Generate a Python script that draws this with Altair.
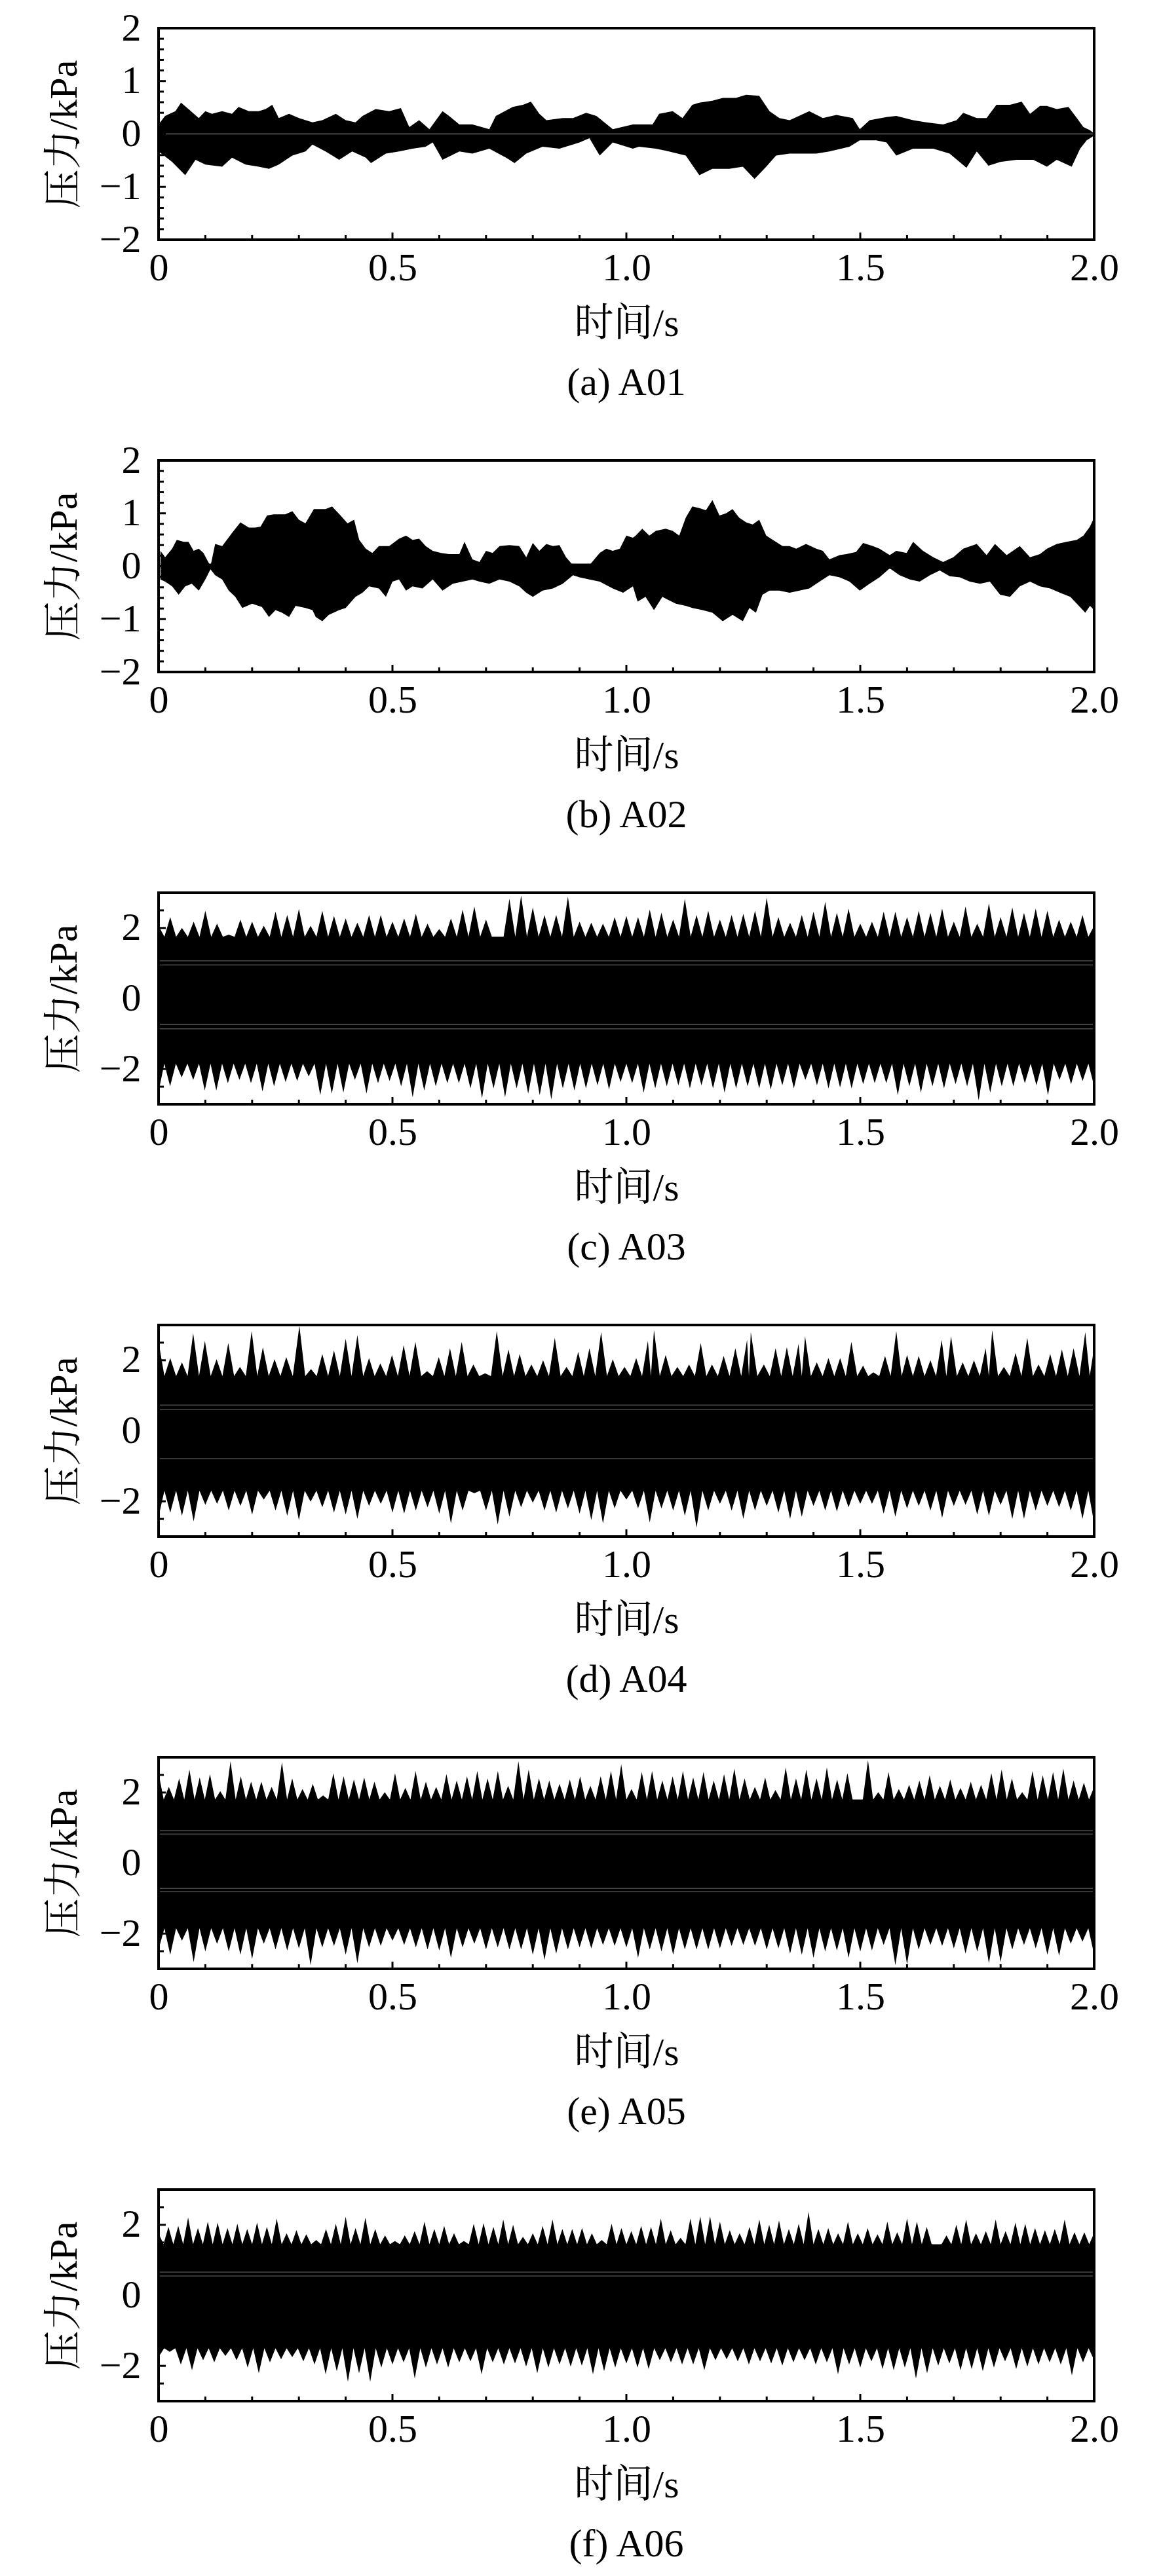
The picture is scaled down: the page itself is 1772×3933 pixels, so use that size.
import altair as alt
import pandas as pd

FONT = "Liberation Serif, Noto Serif CJK SC, Noto Sans CJK SC"
FS = 60
W, H = 1428, 323

# ---------------- axis ticks / labels ----------------
X_LABELS = [0.0, 0.5, 1.0, 1.5, 2.0]
X_TICKS_MAJOR = [0.0, 0.5, 1.0, 1.5, 2.0]
X_TICKS_MINOR = [0.1, 0.2, 0.3, 0.4, 0.6, 0.7, 0.8, 0.9, 1.1, 1.2, 1.3, 1.4, 1.6, 1.7, 1.8, 1.9]
Y2_LABELS = [-2, -1, 0, 1, 2]
Y2_MINOR = [-1.8, -1.6, -1.4, -1.2, -0.8, -0.6, -0.4, -0.2, 0.2, 0.4, 0.6, 0.8, 1.2, 1.4, 1.6, 1.8]
Y3_LABELS = [-2, 0, 2]
Y3_MINOR = [-2.5, -1.5, -1.0, -0.5, 0.5, 1.0, 1.5, 2.5]

# ---------------- (a) A01 envelope ----------------
A_UP_T = [0.0, 0.014, 0.036, 0.048, 0.064, 0.086, 0.10, 0.114, 0.136, 0.157,
          0.171, 0.193, 0.214, 0.229, 0.243, 0.257, 0.279, 0.30, 0.329, 0.35,
          0.379, 0.40, 0.421, 0.436, 0.464, 0.493, 0.518, 0.536, 0.557, 0.579,
          0.607, 0.621, 0.643, 0.671, 0.707, 0.721, 0.757, 0.779, 0.796, 0.814,
          0.829, 0.864, 0.886, 0.914, 0.936, 0.971, 1.014,
          1.027, 1.056, 1.07, 1.099, 1.12, 1.141, 1.156, 1.184, 1.206, 1.234,
          1.256, 1.284, 1.306, 1.327, 1.349, 1.391, 1.42, 1.449, 1.484, 1.499,
          1.52, 1.556, 1.577, 1.613, 1.641, 1.677, 1.706, 1.72, 1.749, 1.77,
          1.791, 1.82, 1.845, 1.863, 1.884, 1.899, 1.92, 1.945, 1.963, 1.977,
          1.991, 2.0]
A_UP = [0.18, 0.34, 0.43, 0.59, 0.47, 0.30, 0.43, 0.38, 0.43, 0.38,
        0.51, 0.43, 0.43, 0.47, 0.55, 0.30, 0.38, 0.30, 0.22, 0.26,
        0.38, 0.26, 0.22, 0.34, 0.47, 0.43, 0.49, 0.13, 0.26, 0.09,
        0.43, 0.34, 0.18, 0.18, 0.09, 0.34, 0.51, 0.55, 0.61, 0.38,
        0.26, 0.30, 0.30, 0.40, 0.34, 0.09, 0.18,
        0.18, 0.18, 0.38, 0.43, 0.30, 0.55, 0.59, 0.63, 0.68, 0.68,
        0.74, 0.72, 0.43, 0.30, 0.26, 0.43, 0.30, 0.36, 0.30, 0.09,
        0.26, 0.32, 0.34, 0.26, 0.22, 0.18, 0.26, 0.40, 0.30, 0.30,
        0.55, 0.55, 0.61, 0.38, 0.53, 0.53, 0.47, 0.51, 0.30, 0.13,
        0.07, 0.01]
A_LO_T = [0.0, 0.029, 0.057, 0.079, 0.10, 0.136, 0.157, 0.186, 0.214, 0.236,
          0.257, 0.286, 0.314, 0.329, 0.357, 0.386, 0.414, 0.443, 0.454, 0.486,
          0.514, 0.543, 0.571, 0.586, 0.607, 0.643, 0.671, 0.707, 0.743, 0.761,
          0.786, 0.821, 0.857, 0.90, 0.921, 0.943, 0.971, 1.014,
          1.027, 1.063, 1.091, 1.127, 1.156, 1.184, 1.22, 1.249, 1.274, 1.299,
          1.32, 1.349, 1.377, 1.406, 1.434, 1.477, 1.499, 1.534, 1.556, 1.577,
          1.613, 1.656, 1.691, 1.727, 1.749, 1.774, 1.799, 1.834, 1.87, 1.899,
          1.92, 1.952, 1.97, 1.984, 2.0]
A_LO = [-0.33, -0.53, -0.78, -0.49, -0.58, -0.62, -0.45, -0.58, -0.62, -0.66,
        -0.58, -0.41, -0.33, -0.20, -0.33, -0.49, -0.33, -0.45, -0.55, -0.37,
        -0.33, -0.28, -0.24, -0.16, -0.49, -0.33, -0.37, -0.28, -0.45, -0.55,
        -0.37, -0.24, -0.28, -0.16, -0.08, -0.41, -0.16, -0.28,
        -0.24, -0.28, -0.33, -0.41, -0.78, -0.66, -0.66, -0.62, -0.85, -0.62,
        -0.41, -0.37, -0.37, -0.37, -0.33, -0.24, -0.12, -0.12, -0.16, -0.41,
        -0.28, -0.28, -0.37, -0.64, -0.33, -0.60, -0.53, -0.49, -0.49, -0.62,
        -0.49, -0.62, -0.28, -0.12, -0.03]

# ---------------- (b) A02 envelope ----------------
B_UP_T = [0.004, 0.014, 0.029, 0.039, 0.054, 0.064, 0.075, 0.086, 0.096, 0.111,
          0.121, 0.136, 0.146, 0.157, 0.175, 0.193, 0.207, 0.218, 0.232, 0.246,
          0.261, 0.271, 0.286, 0.30, 0.314, 0.332, 0.343, 0.357, 0.371, 0.389,
          0.404, 0.418, 0.429, 0.443, 0.457, 0.471, 0.493, 0.514, 0.529, 0.543,
          0.557, 0.571, 0.586, 0.604, 0.621, 0.643, 0.654, 0.671, 0.686, 0.70,
          0.714, 0.729, 0.75, 0.771, 0.786, 0.80, 0.814, 0.829, 0.843, 0.857,
          0.871, 0.886, 0.90, 0.921, 0.943, 0.957, 0.971, 0.986, 1.0, 1.014,
          1.02, 1.034, 1.049, 1.063, 1.084, 1.099, 1.113, 1.127, 1.141, 1.156,
          1.17, 1.184, 1.199, 1.213, 1.227, 1.241, 1.256, 1.27, 1.284, 1.299,
          1.313, 1.334, 1.349, 1.363, 1.384, 1.406, 1.42, 1.434, 1.456, 1.47,
          1.491, 1.506, 1.527, 1.541, 1.563, 1.577, 1.599, 1.613, 1.634, 1.656,
          1.677, 1.699, 1.72, 1.749, 1.77, 1.788, 1.813, 1.841, 1.863, 1.884,
          1.899, 1.92, 1.941, 1.963, 1.977, 1.991, 2.0]
B_UP = [0.29, 0.17, 0.33, 0.50, 0.46, 0.46, 0.29, 0.33, 0.25, 0.0,
        0.42, 0.38, 0.50, 0.63, 0.83, 0.73, 0.73, 0.75, 0.96, 0.98,
        0.98, 0.98, 1.04, 0.88, 0.81, 1.08, 1.08, 1.08, 1.13, 0.96,
        0.81, 0.88, 0.50, 0.33, 0.25, 0.38, 0.38, 0.52, 0.58, 0.50,
        0.52, 0.38, 0.29, 0.25, 0.23, 0.23, 0.46, 0.13, 0.08, 0.29,
        0.25, 0.38, 0.40, 0.38, 0.17, 0.44, 0.29, 0.42, 0.38, 0.40,
        0.17, 0.02, 0.04, 0.02, 0.25, 0.33, 0.29, 0.33, 0.58, 0.54,
        0.58, 0.71, 0.58, 0.67, 0.71, 0.67, 0.58, 0.92, 1.13, 1.10,
        1.06, 1.25, 0.96, 1.0, 1.08, 0.92, 0.83, 0.79, 0.88, 0.58,
        0.50, 0.38, 0.38, 0.33, 0.42, 0.33, 0.29, 0.13, 0.21, 0.23,
        0.27, 0.44, 0.38, 0.33, 0.21, 0.29, 0.25, 0.46, 0.29, 0.17,
        0.08, 0.17, 0.33, 0.42, 0.21, 0.42, 0.21, 0.38, 0.17, 0.23,
        0.33, 0.42, 0.46, 0.50, 0.58, 0.75, 0.92]
B_LO_T = [0.004, 0.014, 0.029, 0.043, 0.057, 0.071, 0.086, 0.10, 0.111, 0.121,
          0.136, 0.15, 0.164, 0.179, 0.20, 0.221, 0.236, 0.25, 0.264, 0.279,
          0.293, 0.314, 0.329, 0.336, 0.35, 0.364, 0.386, 0.40, 0.421, 0.436,
          0.45, 0.471, 0.486, 0.50, 0.514, 0.529, 0.543, 0.564, 0.586, 0.607,
          0.629, 0.65, 0.671, 0.686, 0.707, 0.729, 0.75, 0.771, 0.786, 0.80,
          0.821, 0.843, 0.864, 0.886, 0.90, 0.921, 0.943, 0.971, 0.993, 1.014,
          1.024, 1.041, 1.059, 1.077, 1.106, 1.127, 1.141, 1.163, 1.184, 1.206,
          1.227, 1.249, 1.263, 1.277, 1.291, 1.306, 1.327, 1.349, 1.37, 1.391,
          1.413, 1.434, 1.456, 1.477, 1.499, 1.52, 1.541, 1.563, 1.584, 1.606,
          1.627, 1.649, 1.67, 1.691, 1.713, 1.734, 1.756, 1.777, 1.799, 1.82,
          1.841, 1.863, 1.884, 1.906, 1.927, 1.949, 1.963, 1.981, 1.991, 2.0]
B_LO = [-0.25, -0.29, -0.38, -0.54, -0.38, -0.33, -0.46, -0.25, -0.06, -0.17,
        -0.25, -0.46, -0.58, -0.79, -0.71, -0.77, -0.96, -0.83, -0.88, -0.96,
        -0.75, -0.79, -0.83, -0.96, -1.04, -0.92, -0.83, -0.79, -0.58, -0.50,
        -0.38, -0.42, -0.58, -0.29, -0.25, -0.46, -0.38, -0.42, -0.25, -0.46,
        -0.33, -0.29, -0.25, -0.29, -0.33, -0.25, -0.29, -0.38, -0.50, -0.58,
        -0.46, -0.42, -0.33, -0.17, -0.21, -0.25, -0.29, -0.42, -0.50, -0.38,
        -0.67, -0.58, -0.83, -0.58, -0.71, -0.75, -0.79, -0.83, -0.88, -1.04,
        -0.92, -1.04, -0.79, -0.88, -0.54, -0.46, -0.46, -0.50, -0.46, -0.42,
        -0.29, -0.17, -0.21, -0.29, -0.46, -0.33, -0.21, -0.04, -0.17, -0.25,
        -0.29, -0.17, -0.08, -0.19, -0.21, -0.29, -0.33, -0.29, -0.54, -0.58,
        -0.38, -0.29, -0.38, -0.42, -0.50, -0.58, -0.71, -0.88, -0.75, -0.83]

# ---------------- (c)-(f): peak values of the oscillation, in time order ----------------
C_UP = [2.06, 2.31, 2.00, 2.18, 2.49, 2.12, 1.81, 2.24, 2.18, 2.06,
        2.46, 2.37, 2.54, 2.06, 2.49, 2.34, 2.27, 2.15, 2.37, 2.37,
        2.18, 2.27, 2.40, 2.12, 1.97, 2.27, 2.52, 2.61, 2.24, 1.75,
        2.83, 2.92, 2.58, 2.37, 2.37, 2.89, 2.18, 2.15, 2.12, 2.31,
        2.34, 2.31, 2.52, 2.43, 2.24, 2.83, 2.37, 2.49, 2.24, 2.37,
        2.40, 2.49, 2.86, 2.31, 2.15, 2.37, 2.46, 2.74, 2.43, 2.55,
        2.12, 2.18, 2.46, 2.46, 2.31, 2.49, 2.43, 2.55, 2.18, 2.61,
        2.12, 2.70, 2.31, 2.58, 2.43, 2.55, 2.49, 2.24, 2.18, 2.37, 2.06]
C_LO = [-2.64, -2.49, -2.24, -2.31, -2.61, -2.61, -2.40, -2.31, -2.40, -2.64,
        -2.49, -2.37, -2.34, -2.21, -2.74, -2.70, -2.67, -2.31, -2.70, -2.40,
        -2.34, -2.49, -2.80, -2.61, -2.49, -2.40, -2.40, -2.55, -2.83, -2.55,
        -2.80, -2.55, -2.70, -2.74, -2.86, -2.55, -2.61, -2.55, -2.46, -2.58,
        -2.37, -2.40, -2.67, -2.55, -2.49, -2.46, -2.55, -2.46, -2.55, -2.67,
        -2.55, -2.49, -2.55, -2.58, -2.46, -2.55, -2.31, -2.46, -2.55, -2.52,
        -2.55, -2.43, -2.40, -2.40, -2.74, -2.49, -2.67, -2.49, -2.55, -2.43,
        -2.49, -2.89, -2.67, -2.49, -2.49, -2.40, -2.46, -2.74, -2.31, -2.43,
        -2.34, -2.49]
C_TROUGH = [1.75, -1.85]
C_GAPS = [1.07, 0.95, -0.74, -0.86]

D_UP_T = [0.0, 0.025, 0.05, 0.074, 0.099, 0.124, 0.149, 0.174, 0.199, 0.223,
          0.248, 0.273, 0.301, 0.326, 0.35, 0.375, 0.40, 0.425, 0.45, 0.474,
          0.499, 0.524, 0.549, 0.574, 0.599, 0.623, 0.648, 0.673, 0.698, 0.723,
          0.748, 0.772, 0.797, 0.822, 0.847, 0.872, 0.897, 0.921, 0.946, 0.971,
          0.996, 1.021, 1.046, 1.059, 1.084, 1.109, 1.134, 1.159, 1.183, 1.208,
          1.233, 1.258, 1.266, 1.294, 1.319, 1.343, 1.368, 1.382, 1.407, 1.432,
          1.457, 1.481, 1.506, 1.528, 1.553, 1.577, 1.60, 1.625, 1.65, 1.674,
          1.694, 1.719, 1.743, 1.768, 1.782, 1.807, 1.832, 1.857, 1.881, 1.906,
          1.931, 1.956, 1.981, 2.0]
D_UP = [2.52, 2.06, 1.94, 2.77, 2.55, 2.03, 2.49, 1.81, 2.83, 2.37,
        2.03, 2.09, 2.98, 1.75, 2.18, 2.28, 2.61, 2.71, 2.06, 1.91,
        2.15, 2.43, 2.52, 1.69, 2.09, 2.34, 2.52, 1.88, 1.63, 2.83,
        2.31, 2.18, 1.88, 2.00, 2.64, 1.81, 2.24, 2.34, 2.80, 2.03,
        1.81, 2.06, 2.55, 2.86, 2.15, 1.81, 1.88, 2.49, 1.88, 2.12,
        2.34, 2.58, 2.80, 1.88, 2.34, 2.37, 2.46, 2.68, 1.94, 2.06,
        2.06, 2.52, 1.85, 1.66, 2.12, 2.83, 2.15, 2.12, 2.00, 2.58,
        2.68, 1.94, 2.00, 2.34, 2.86, 1.81, 2.21, 2.64, 1.88, 2.18,
        2.31, 2.34, 2.80, 2.37]
D_LO = [-2.44, -2.32, -2.41, -2.57, -2.10, -2.07, -2.26, -2.13, -2.38, -1.95,
        -2.26, -2.41, -2.53, -2.01, -2.17, -2.32, -2.38, -2.50, -2.13, -2.07,
        -2.32, -2.35, -2.26, -2.17, -2.35, -2.63, -2.26, -1.77, -2.26, -2.66,
        -2.44, -2.17, -2.04, -2.26, -2.32, -2.20, -2.35, -2.53, -2.63, -2.20,
        -1.95, -2.20, -2.60, -2.20, -2.26, -2.41, -2.75, -2.26, -2.07, -2.26,
        -2.50, -2.26, -2.13, -2.32, -2.50, -2.44, -2.13, -2.26, -2.29, -2.17,
        -2.07, -2.07, -2.35, -2.44, -2.20, -2.13, -2.26, -2.47, -2.13, -2.10,
        -2.38, -2.41, -2.10, -2.50, -2.50, -2.26, -2.13, -2.17, -2.26, -2.50,
        -2.63]
D_TROUGH = [1.55, -1.7]
D_GAPS = [0.73, 0.61, -0.79]

E_UP = [2.55, 2.16, 2.40, 2.65, 2.43, 2.52, 2.04, 2.89, 2.46, 2.31,
        2.31, 2.16, 2.86, 2.40, 2.10, 2.25, 1.92, 2.55, 2.46, 2.37,
        2.43, 2.31, 2.01, 2.55, 2.13, 2.61, 2.31, 2.16, 2.52, 2.34,
        2.46, 2.61, 2.40, 2.61, 2.19, 2.89, 2.65, 2.40, 2.34, 2.25,
        2.37, 2.46, 2.19, 2.46, 2.61, 2.80, 2.10, 2.58, 2.61, 2.34,
        2.46, 2.61, 2.43, 2.58, 2.34, 2.52, 2.68, 2.40, 2.16, 2.43,
        2.07, 2.71, 2.40, 2.65, 2.40, 2.71, 2.37, 2.55, 1.74, 2.92,
        2.01, 2.58, 2.10, 2.22, 2.34, 2.49, 2.19, 2.37, 2.13, 2.31,
        2.22, 2.55, 2.65, 2.40, 2.01, 2.61, 2.49, 2.58, 2.68, 2.34,
        2.28, 2.16]
E_LO = [-2.45, -2.60, -2.20, -2.81, -2.51, -2.29, -2.51, -2.60, -2.72, -2.29,
        -2.45, -2.48, -2.42, -2.90, -2.39, -2.35, -2.60, -2.84, -2.39, -2.35,
        -2.20, -2.32, -2.39, -2.45, -2.48, -2.69, -2.39, -2.29, -2.45, -2.39,
        -2.45, -2.45, -2.60, -2.75, -2.57, -2.45, -2.39, -2.42, -2.32, -2.35,
        -2.39, -2.69, -2.45, -2.51, -2.60, -2.45, -2.45, -2.45, -2.42, -2.35,
        -2.32, -2.35, -2.45, -2.42, -2.57, -2.60, -2.69, -2.51, -2.48, -2.69,
        -2.51, -2.48, -2.32, -2.90, -2.87, -2.45, -2.32, -2.35, -2.42, -2.57,
        -2.51, -2.84, -2.81, -2.45, -2.32, -2.42, -2.60, -2.63, -2.29, -2.23,
        -2.60]
E_TROUGH = [1.8, -1.85]
E_GAPS = [0.92, 0.82, -0.72, -0.81]

F_UP = [1.76, 1.94, 1.97, 2.21, 1.91, 2.09, 2.06, 1.91, 2.03, 1.88,
        2.06, 1.94, 2.18, 1.76, 1.85, 1.73, 1.57, 1.88, 2.03, 2.23,
        1.91, 2.20, 1.88, 1.70, 1.54, 1.70, 1.82, 2.09, 1.88, 1.97,
        1.76, 1.54, 2.03, 2.05, 1.94, 2.15, 2.00, 1.66, 1.76, 1.97,
        2.15, 1.88, 1.88, 1.91, 1.76, 1.57, 2.03, 1.91, 1.82, 1.97,
        1.94, 2.18, 1.85, 1.63, 2.18, 2.24, 2.24, 2.09, 1.85, 1.76,
        1.94, 2.15, 2.00, 2.12, 1.88, 2.03, 2.37, 1.88, 1.91, 1.76,
        2.09, 1.76, 1.91, 1.73, 2.09, 1.79, 2.18, 2.09, 1.94, 1.42,
        1.70, 2.00, 2.15, 1.76, 1.82, 2.15, 1.82, 2.06, 2.03, 1.91,
        1.85, 1.88, 2.15, 1.79, 1.79, 1.77]
F_LO = [-1.75, -1.60, -1.96, -2.12, -1.84, -1.90, -1.72, -1.84, -2.05, -2.21,
        -1.90, -1.81, -1.75, -1.87, -1.96, -2.24, -2.15, -2.45, -2.21, -2.45,
        -2.05, -1.96, -1.90, -2.36, -2.05, -1.96, -2.05, -1.90, -1.87, -2.24,
        -1.90, -1.96, -1.93, -2.02, -2.21, -2.05, -1.96, -2.02, -1.99, -2.24,
        -2.15, -2.05, -1.93, -2.05, -2.09, -1.84, -1.90, -1.96, -1.96, -2.12,
        -1.84, -1.81, -1.87, -1.96, -1.87, -1.93, -1.99, -1.90, -1.84, -1.96,
        -1.90, -2.24, -1.96, -2.05, -1.87, -2.09, -2.12, -2.05, -2.36, -2.21,
        -1.99, -1.93, -2.12, -2.09, -2.15, -2.05, -1.87, -2.09, -2.02, -1.96,
        -1.90, -1.96, -2.27, -1.90, -1.84]
F_TROUGH = [1.45, -1.5]
F_GAPS = [0.66, 0.55]

CAPTIONS = ["(a) A01", "(b) A02", "(c) A03", "(d) A04", "(e) A05", "(f) A06"]


# ---------------- helpers ----------------
def env_df(ts, vs, base):
    return pd.DataFrame({"t": ts, "v": vs, "v2": [base] * len(ts)})


def teeth_df(peaks, trough, base, ts=None):
    """Edge of the dense oscillation: successive peaks with the read trough level between them."""
    n = len(peaks)
    if ts is None:
        ts = [2.0 * i / (n - 1) for i in range(n)]
    tt, vv = [], []
    for i in range(n):
        tt.append(ts[i])
        vv.append(peaks[i])
        if i < n - 1:
            tt.append((ts[i] + ts[i + 1]) / 2)
            vv.append(trough)
    return pd.DataFrame({"t": tt, "v": vv, "v2": [base] * len(tt)})


def panel(up_df, lo_df, ydom, ylabels, yminor, gaps, caption, gap_color="#4a4a4a"):
    xs = alt.Scale(domain=[0, 2], nice=False, zero=False)
    ys = alt.Scale(domain=ydom, nice=False, zero=False)
    xaxis = alt.Axis(values=X_LABELS,
                     labelExpr="datum.value == 0 ? '0' : format(datum.value, '.1f')",
                     ticks=False, domain=False, grid=False, labelFlush=False,
                     labelFont=FONT, labelFontSize=FS, labelColor="black",
                     labelPadding=14, labelOverlap=False,
                     titleFont=FONT, titleFontSize=FS, titleFontWeight="normal",
                     titleColor="black", titlePadding=26)
    yaxis = alt.Axis(values=ylabels, ticks=False, domain=False, grid=False,
                     labelFont=FONT, labelFontSize=FS, labelColor="black",
                     labelPadding=27, labelOverlap=False, labelFlush=False,
                     titleFont=FONT, titleFontSize=FS, titleFontWeight="normal",
                     titleColor="black", titlePadding=22)
    x_enc = alt.X("t:Q", scale=xs, axis=xaxis, title="时间/s")
    y_enc = alt.Y("v:Q", scale=ys, axis=yaxis, title="压力/kPa")

    layers = [
        alt.Chart(up_df).mark_area(color="black", clip=True, interpolate="linear")
        .encode(x=x_enc, y=y_enc, y2="v2:Q"),
        alt.Chart(lo_df).mark_area(color="black", clip=True, interpolate="linear")
        .encode(x=x_enc, y=y_enc, y2="v2:Q"),
    ]
    if gaps:
        layers.append(
            alt.Chart(pd.DataFrame({"v": gaps})).mark_rule(color=gap_color, strokeWidth=1.5)
            .encode(y=y_enc, x=alt.value(0), x2=alt.value(W)))
    layers += [
        alt.Chart(pd.DataFrame({"t": X_TICKS_MINOR})).mark_rule(color="black", strokeWidth=3)
        .encode(x=x_enc, y=alt.value(H), y2=alt.value(H - 7)),
        alt.Chart(pd.DataFrame({"t": X_TICKS_MAJOR})).mark_rule(color="black", strokeWidth=3)
        .encode(x=x_enc, y=alt.value(H), y2=alt.value(H - 11)),
        alt.Chart(pd.DataFrame({"v": yminor})).mark_rule(color="black", strokeWidth=3)
        .encode(y=y_enc, x=alt.value(0), x2=alt.value(8)),
        alt.Chart(pd.DataFrame({"v": ylabels})).mark_rule(color="black", strokeWidth=3)
        .encode(y=y_enc, x=alt.value(0), x2=alt.value(11)),
        alt.Chart(pd.DataFrame({"k": [0]})).mark_rect(fill="transparent", stroke="black", strokeWidth=4)
        .encode(x=alt.value(0), x2=alt.value(W), y=alt.value(0), y2=alt.value(H)),
    ]
    return alt.layer(*layers).properties(
        width=W, height=H,
        title=alt.TitleParams(caption, orient="bottom", anchor="middle", font=FONT,
                              fontSize=FS, fontWeight="normal", color="black", offset=32),
    )


pa = panel(env_df(A_UP_T, A_UP, 0.0), env_df(A_LO_T, A_LO, 0.0), [-2, 2],
           Y2_LABELS, Y2_MINOR, [0.0], CAPTIONS[0], gap_color="#666666")
pb = panel(env_df(B_UP_T, B_UP, -0.05), env_df(B_LO_T, B_LO, 0.05), [-2, 2],
           Y2_LABELS, Y2_MINOR, [], CAPTIONS[1])
pc = panel(teeth_df(C_UP, C_TROUGH[0], C_TROUGH[1]), teeth_df(C_LO, C_TROUGH[1], C_TROUGH[0]),
           [-3, 3], Y3_LABELS, Y3_MINOR, C_GAPS, CAPTIONS[2])
pd_ = panel(teeth_df(D_UP, D_TROUGH[0], D_TROUGH[1], D_UP_T), teeth_df(D_LO, D_TROUGH[1], D_TROUGH[0]),
            [-3, 3], Y3_LABELS, Y3_MINOR, D_GAPS, CAPTIONS[3])
pe = panel(teeth_df(E_UP, E_TROUGH[0], E_TROUGH[1]), teeth_df(E_LO, E_TROUGH[1], E_TROUGH[0]),
           [-3, 3], Y3_LABELS, Y3_MINOR, E_GAPS, CAPTIONS[4])
pf = panel(teeth_df(F_UP, F_TROUGH[0], F_TROUGH[1]), teeth_df(F_LO, F_TROUGH[1], F_TROUGH[0]),
           [-3, 3], Y3_LABELS, Y3_MINOR, F_GAPS, CAPTIONS[5])

chart = alt.vconcat(pa, pb, pc, pd_, pe, pf, spacing=337, bounds="flush").properties(
    padding={"left": 60, "top": 5, "right": 10, "bottom": 10},
    background="white",
).configure_view(strokeOpacity=0)

chart.save("out.html", embed_options={"renderer": "svg", "actions": False})
